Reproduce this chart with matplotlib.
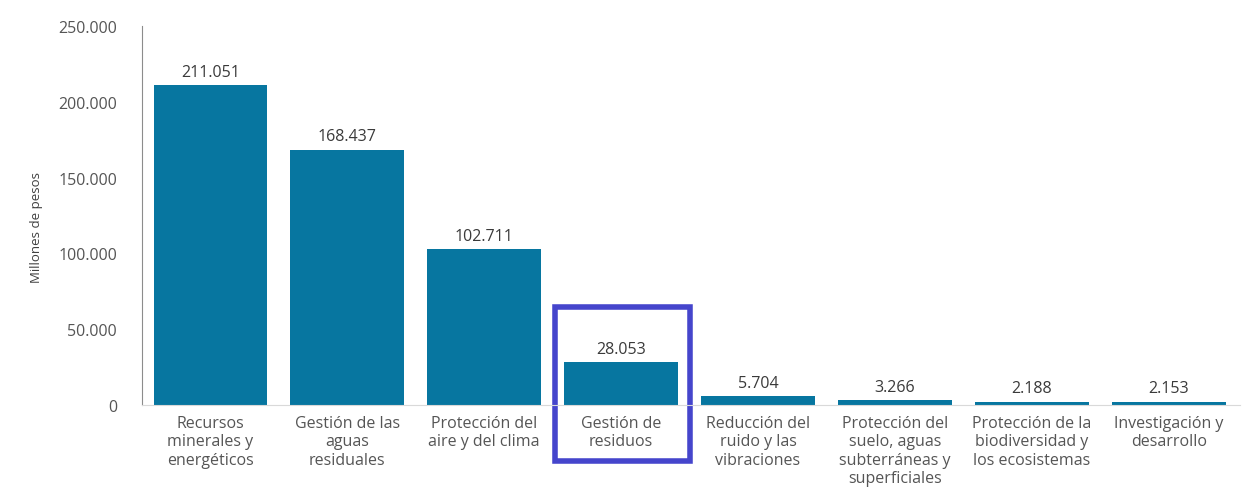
import matplotlib.pyplot as plt
from matplotlib.patches import Rectangle

categorias = ['Recursos\nminerales y\nenergéticos', 'Gestión de las\naguas\nresiduales',
              'Protección del\naire y del clima', 'Gestión de\nresiduos',
              'Reducción del\nruido y las\nvibraciones', 'Protección del\nsuelo, aguas\nsubterráneas y\nsuperficiales',
              'Protección de la\nbiodiversidad y\nlos ecosistemas', 'Investigación y\ndesarrollo']
valores = [211051, 168437, 102711, 28053, 5704, 3266, 2188, 2153]
etiquetas = ['211.051', '168.437', '102.711', '28.053', '5.704', '3.266', '2.188', '2.153']
yticks = [0, 50000, 100000, 150000, 200000, 250000]
ytick_labels = ['0', '50.000', '100.000', '150.000', '200.000', '250.000']
destacado = 3

plt.rcParams['font.family'] = ['Open Sans', 'DejaVu Sans']

fig = plt.figure(figsize=(12.54, 5.02), dpi=100)
ax = fig.add_axes([0.1132, 0.1912, 0.8756, 0.7548])

x = range(len(valores))
ax.bar(x, valores, width=0.83, color='#0776a0')
for i, v in enumerate(valores):
    ax.text(i, v + 3500, etiquetas[i], ha='center', va='bottom', fontsize=11.5, color='#3a3a3a')

ax.set_xlim(-0.5, 7.52)
ax.set_ylim(0, 250000)
ax.set_yticks(yticks)
ax.set_yticklabels(ytick_labels, fontsize=11.5, color='#555555')
ax.set_xticks(list(x))
ax.set_xticklabels(categorias, fontsize=11.5, color='#555555', linespacing=1.2)
ax.tick_params(length=0, axis='y', pad=18)
ax.tick_params(length=0, axis='x', pad=7)
ax.set_ylabel('Millones de pesos', fontsize=9.5, color='#404040')
ax.yaxis.set_label_coords(-0.09, 0.47)

for s in ['top', 'right']:
    ax.spines[s].set_visible(False)
ax.spines['left'].set_color('#8c8c8c')
ax.spines['bottom'].set_color('#d9d9d9')

# recuadro resaltado
rect = Rectangle((destacado - 0.48, -36900), 0.98, 101500, fill=False,
                 edgecolor='#4545cc', linewidth=4, clip_on=False)
ax.add_patch(rect)

fig.savefig('out.png', dpi=100, facecolor='white')
